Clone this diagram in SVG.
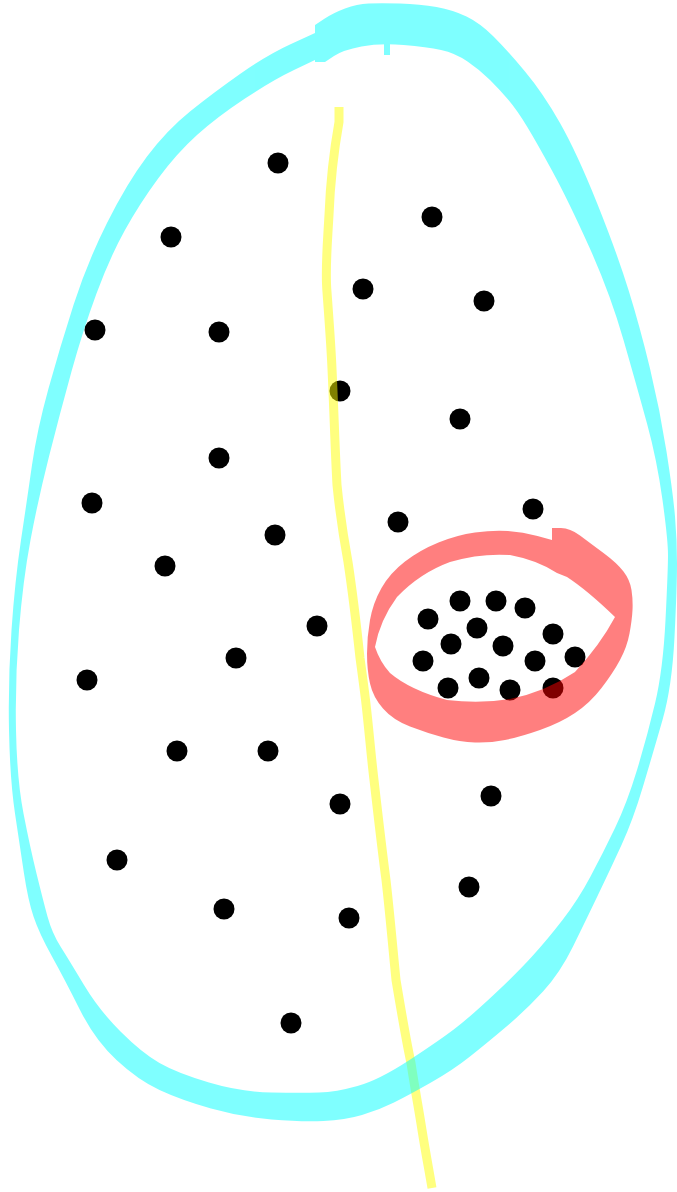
<svg xmlns="http://www.w3.org/2000/svg" width="677" height="1192" viewBox="0 0 677 1192">
<style>
.dot{fill:#000}
.stroke{opacity:0.5}
</style>
<rect width="677" height="1192" fill="#fff"/>
<g id="dots">
<circle class="dot" cx="278" cy="163" r="10.5"/>
<circle class="dot" cx="171" cy="237" r="10.5"/>
<circle class="dot" cx="432" cy="217" r="10.5"/>
<circle class="dot" cx="363" cy="289" r="10.5"/>
<circle class="dot" cx="484" cy="301" r="10.5"/>
<circle class="dot" cx="95" cy="330" r="10.5"/>
<circle class="dot" cx="219" cy="332" r="10.5"/>
<circle class="dot" cx="340" cy="391" r="10.5"/>
<circle class="dot" cx="460" cy="419" r="10.5"/>
<circle class="dot" cx="219" cy="458" r="10.5"/>
<circle class="dot" cx="92" cy="503" r="10.5"/>
<circle class="dot" cx="275" cy="535" r="10.5"/>
<circle class="dot" cx="398" cy="522" r="10.5"/>
<circle class="dot" cx="533" cy="509" r="10.5"/>
<circle class="dot" cx="165" cy="566" r="10.5"/>
<circle class="dot" cx="317" cy="626" r="10.5"/>
<circle class="dot" cx="236" cy="658" r="10.5"/>
<circle class="dot" cx="87" cy="680" r="10.5"/>
<circle class="dot" cx="177" cy="751" r="10.5"/>
<circle class="dot" cx="268" cy="751" r="10.5"/>
<circle class="dot" cx="340" cy="804" r="10.5"/>
<circle class="dot" cx="491" cy="796" r="10.5"/>
<circle class="dot" cx="117" cy="860" r="10.5"/>
<circle class="dot" cx="224" cy="909" r="10.5"/>
<circle class="dot" cx="349" cy="918" r="10.5"/>
<circle class="dot" cx="469" cy="887" r="10.5"/>
<circle class="dot" cx="291" cy="1023" r="10.5"/>
</g>
<g id="cluster-dots">
<circle class="dot" cx="460" cy="601" r="10.5"/>
<circle class="dot" cx="496" cy="601" r="10.5"/>
<circle class="dot" cx="525" cy="608" r="10.5"/>
<circle class="dot" cx="428" cy="619" r="10.5"/>
<circle class="dot" cx="477" cy="628" r="10.5"/>
<circle class="dot" cx="553" cy="634" r="10.5"/>
<circle class="dot" cx="451" cy="644" r="10.5"/>
<circle class="dot" cx="503" cy="646" r="10.5"/>
<circle class="dot" cx="423" cy="661" r="10.5"/>
<circle class="dot" cx="575" cy="657" r="10.5"/>
<circle class="dot" cx="535" cy="661" r="10.5"/>
<circle class="dot" cx="479" cy="678" r="10.5"/>
<circle class="dot" cx="448" cy="688" r="10.5"/>
<circle class="dot" cx="510" cy="690" r="10.5"/>
<circle class="dot" cx="553" cy="688" r="10.5"/>
</g>
<g id="yellow-line" class="stroke">
<path d="M339,107 L339,122 C334,150 330,190 329,215 C327,250 325,270 327,292 C329,320 331,345 332,369 C334,410 335,450 337,485 C340,515 344,540 348,562 C353,595 357,630 360,658 C363,680 365,695 366,704 C369,730 371,755 374,780 C378,815 382,850 386,880 C390,915 393,950 396,980 C401,1010 406,1040 411,1063 C415,1090 419,1110 422,1130 C426,1155 429,1170 432,1188" fill="none" stroke="#ffff00" stroke-width="9" stroke-linejoin="round"/>
</g>
<g id="cyan-oval" class="stroke" fill="#00ffff">
<path fill-rule="evenodd" d="M315,25 L324,19 Q333,13 345,8.5 Q357,4 368.5,3.5 Q380,3 400,3.5 Q420,4 436.5,7 Q453,10 466.5,16.5 Q480,23 493.5,36.5 Q507,50 525,71.5 Q543,93 560,123 Q577,153 597,203 Q617,253 628.5,290 Q640,327 650,368.5 Q660,410 666.5,451.5 Q673,493 675,516.5 Q677,540 677,563.5 Q677,587 674.5,637 Q672,687 662.5,720 Q653,753 643,786.5 Q633,820 621.5,845 Q610,870 598,895 Q586,920 573,946.5 Q560,973 543,991.5 Q526,1010 506.5,1026.5 Q487,1043 470,1056.5 Q453,1070 431,1082.5 Q409,1095 394,1102.5 Q379,1110 362,1115 Q345,1120 323.5,1121 Q302,1122 271.5,1119.5 Q241,1117 211,1108.5 Q181,1100 159.5,1090 Q138,1080 116.5,1060 Q95,1040 80,1010 Q65,980 52,956.5 Q39,933 33.5,916.5 Q28,900 24,873.5 Q20,847 15,813.5 Q10,780 9,730 Q8,680 11.5,630 Q15,580 21,540 Q27,500 32,465 Q37,430 48.5,388.5 Q60,347 73.5,305 Q87,263 107,223 Q127,183 147,156.5 Q167,130 190,111.5 Q213,93 240,74 Q267,55 291,44 L315,33 Z M315,62 L325,62 L334,56 Q343,50 361.5,46.5 Q380,43 403.5,45 Q427,47 441,50 Q455,53 467.5,61.5 Q480,70 490,80 Q500,90 508.5,100 Q517,110 527,126.5 Q537,143 552.5,171.5 Q568,200 589,246.5 Q610,293 623.5,340 Q637,387 647,423.5 Q657,460 662.5,500 Q668,540 668,555 Q668,570 665.5,620 Q663,670 655,703.5 Q647,737 637,770 Q627,803 615,828 Q603,853 590.5,876.5 Q578,900 562.5,920 Q547,940 532,956.5 Q517,973 493.5,995 Q470,1017 455,1028.5 Q440,1040 409.5,1060 Q379,1080 357.5,1086 Q336,1092 319,1092.5 Q302,1093 271.5,1092.5 Q241,1092 209,1082.5 Q177,1073 159.5,1063 Q142,1053 120.5,1031.5 Q99,1010 84,985 Q69,960 60.5,946.5 Q52,933 47.5,916.5 Q43,900 36.5,873.5 Q30,847 23.5,813.5 Q17,780 16,730 Q15,680 19,630 Q23,580 30.5,540 Q38,500 49,456.5 Q60,413 71.5,371.5 Q83,330 96.5,293.5 Q110,257 125,230 Q140,203 158.5,178 Q177,153 197,135 Q217,117 245,98.5 Q273,80 294,70 L315,60 Z"/>
<rect x="384" y="44" width="6" height="11"/>
</g>
<g id="red-loop" class="stroke" fill="#ff0000">
<path fill-rule="evenodd" d="M552,528 L561,528 Q570,528 580,535.5 Q590,543 603.5,553 Q617,563 623.5,571.5 Q630,580 631.5,590 Q633,600 632.5,610 Q632,620 629.5,633.5 Q627,647 620,660 Q613,673 601.5,688 Q590,703 575,713 Q560,723 540,730 Q520,737 505,740 Q490,743 475,742.5 Q460,742 443.5,737.5 Q427,733 410,726.5 Q393,720 383,708.5 Q373,697 370,683.5 Q367,670 367,653.5 Q367,637 370,620 Q373,603 381.5,588 Q390,573 405,561.5 Q420,550 438.5,542.5 Q457,535 475,532.5 Q493,530 508,531 Q523,532 537.5,536 L552,540 Z M557,573 L567,577 Q587,590 615,617 Q600,645 575,672 Q545,692 510,699 Q480,704 447,700 Q410,690 390,673 Q380,662 375,647 Q380,620 397,597 Q420,573 450,562 Q480,553 510,555 Q537,560 557,573 Z"/>
</g>
</svg>
